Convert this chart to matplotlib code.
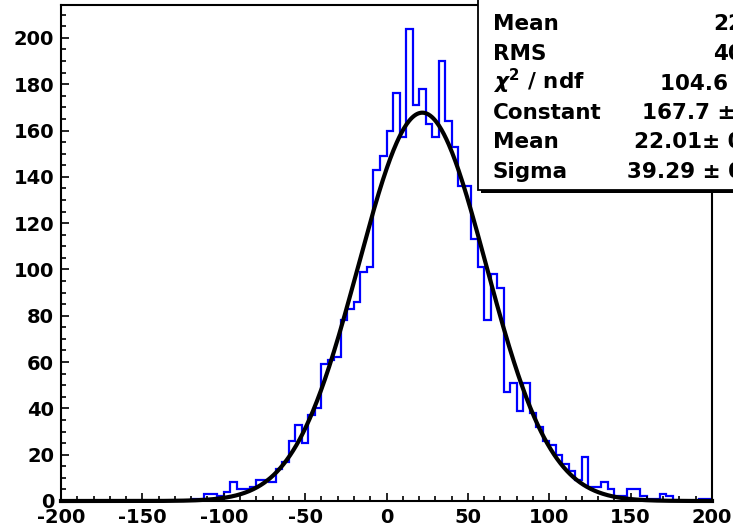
import numpy as np
import matplotlib.pyplot as plt
from matplotlib.patches import Rectangle
from matplotlib.ticker import MultipleLocator

plt.rcParams['font.family'] = 'DejaVu Sans'
plt.rcParams['font.weight'] = 'bold'
plt.rcParams['axes.unicode_minus'] = False

# histogram: 100 bins between -200 and 200
x_low, x_high, n_bins = -200, 200, 100
counts = [0] * 20 + [
    1, 1, 3, 3, 2, 4, 8, 5, 5, 6,
    9, 9, 8, 14, 17, 26, 33, 25, 37, 40,
    59, 61, 62, 78, 83, 86, 99, 101, 143, 149,
    160, 176, 157, 204, 171, 178, 163, 157, 190, 164,
    153, 136, 136, 113, 101, 78, 98, 92, 47, 51,
    39, 51, 38, 32, 26, 24, 20, 16, 13, 9,
    19, 6, 6, 8, 5, 2, 2, 5, 5, 2,
    1, 1, 3, 2, 0, 0, 0, 0, 1, 1,
]

# gaussian fit result
fit_const, fit_mean, fit_sigma = 167.7, 22.01, 39.29

stat_labels = ['Entries', 'Mean', 'RMS', r'$\chi^2$ / ndf', 'Constant', 'Mean', 'Sigma']
stat_values = [str(sum(counts)), '22.05', '40.17', '104.6 / 95',
               '167.7 ± 3.3', '22.01± 0.65', '39.29 ± 0.47']

W, H = 733, 528
fig = plt.figure(figsize=(W / 100, H / 100), dpi=100)
ax = fig.add_axes([61 / W, 1 - 501 / H, 651 / W, 496 / H])

edges = np.linspace(x_low, x_high, n_bins + 1)
ax.stairs(counts, edges, color='#0000ff', lw=1.6)

xs = np.linspace(x_low, x_high, 800)
ys = fit_const * np.exp(-0.5 * ((xs - fit_mean) / fit_sigma) ** 2)
ax.plot(xs, ys, color='black', lw=3, clip_on=False)

ax.set_xlim(x_low, x_high)
ax.set_ylim(0, 1.05 * max(counts))

ax.xaxis.set_major_locator(MultipleLocator(50))
ax.xaxis.set_minor_locator(MultipleLocator(10))
ax.yaxis.set_major_locator(MultipleLocator(20))
ax.yaxis.set_minor_locator(MultipleLocator(5))
ax.tick_params(which='both', direction='in', top=False, right=False, width=1.2)
ax.tick_params(which='major', length=6, labelsize=14, pad=5)
ax.tick_params(which='minor', length=3.3)
for s in ax.spines.values():
    s.set_linewidth(1.5)

# stats box with drop shadow
def px(x, y):
    return x / W, 1 - y / H

fig.add_artist(Rectangle(px(481, 193), (820 - 481) / W, 220 / H,
                         transform=fig.transFigure, facecolor='black', edgecolor='none'))
fig.add_artist(Rectangle(px(478, 190), (820 - 478) / W, 220 / H,
                         transform=fig.transFigure, facecolor='white',
                         edgecolor='black', lw=1.3))

for i, (lab, val) in enumerate(zip(stat_labels, stat_values)):
    y = -7.5 + 29.6 * i + 7.8
    fig.text(*px(493, y), lab, fontsize=15.5, ha='left', va='baseline')
    fig.text(*px(781, y), val, fontsize=15.5, ha='right', va='baseline')

fig.savefig('out.png', dpi=100)
